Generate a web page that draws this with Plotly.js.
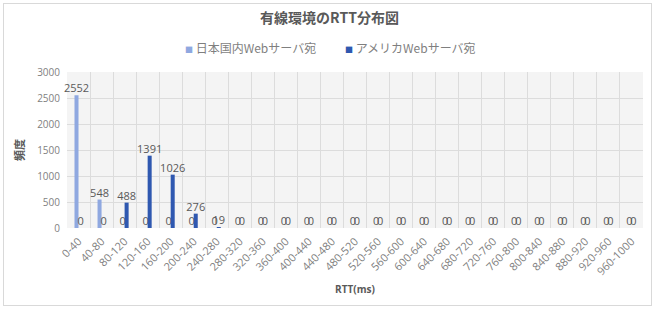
<!DOCTYPE html>
<html>
<head>
<meta charset="utf-8">
<script src="https://cdn.plot.ly/plotly-3.0.1.min.js"></script>
<style>
html,body{margin:0;padding:0;background:#fff;}
#wrap{position:relative;width:659px;height:309px;}
#chart{width:659px;height:309px;}
#frame{position:absolute;left:3px;top:3px;width:647px;height:301px;border:1px solid #d9d9d9;pointer-events:none;}
</style>
</head>
<body>
<div id="wrap"><div id="chart"></div><div id="frame"></div></div>
<script>
const categories = ["0-40","40-80","80-120","120-160","160-200","200-240","240-280","280-320","320-360","360-400","400-440","440-480","480-520","520-560","560-600","600-640","640-680","680-720","720-760","760-800","800-840","840-880","880-920","920-960","960-1000"];
const japanValues = [2552,548,0,0,0,0,0,0,0,0,0,0,0,0,0,0,0,0,0,0,0,0,0,0,0];
const americaValues = [0,0,488,1391,1026,276,19,0,0,0,0,0,0,0,0,0,0,0,0,0,0,0,0,0,0];
const seriesNames = ["日本国内Webサーバ宛","アメリカWebサーバ宛"];
const seriesColors = ["#8fa8e0","#2f58b0"];
const titleText = "有線環境のRTT分布図";
const yTitle = "頻度";
const xTitle = "RTT(ms)";

const labelFont = {family:"Open Sans, Noto Sans CJK JP, sans-serif", size:11, color:"#595959"};
function mk(name, vals, color){
  return {
    type:"bar", name:name, x:categories, y:vals,
    marker:{color:color},
    text:vals.map(String), textposition:"outside", constraintext:"none",
    cliponaxis:false, textfont:labelFont, hoverinfo:"skip"
  };
}
const data = [mk(seriesNames[0], japanValues, seriesColors[0]), mk(seriesNames[1], americaValues, seriesColors[1])];

const legendX = [0.2014, 0.479];
const legendAnn = seriesNames.map((n,i)=>({
  xref:"paper", yref:"paper", x:legendX[i], y:1.16, xanchor:"left", yanchor:"middle",
  showarrow:false,
  text:"<span style='color:"+seriesColors[i]+";font-size:8px'>■</span> "+n,
  font:{family:"Noto Sans CJK JP, sans-serif", size:12, color:"#7f7f7f"}
}));

const layout = {
  width:659, height:309,
  margin:{l:67, r:16, t:72, b:81},
  paper_bgcolor:"#ffffff", plot_bgcolor:"#f4f4f4",
  font:{family:"Noto Sans CJK JP, sans-serif", color:"#595959"},
  title:{text:titleText, x:0.5, xanchor:"center", y:0.94, yanchor:"middle",
         font:{family:"Noto Sans CJK JP, sans-serif", size:14, color:"#595959", weight:"bold"}},
  showlegend:false,
  annotations:legendAnn,
  barmode:"group", bargap:0.65, bargroupgap:0,
  xaxis:{type:"category", tickson:"boundaries", ticklen:0, tickangle:-45,
         showgrid:true, gridcolor:"#dcdcdc", gridwidth:1,
         showline:false, zeroline:false, ticklabelstandoff:4,
         tickfont:{family:"Open Sans, sans-serif", size:11, color:"#7f7f7f"},
         title:{text:xTitle, standoff:8, font:{family:"Open Sans, sans-serif", size:10, color:"#595959", weight:"bold"}}},
  yaxis:{range:[0,3000], dtick:500, showgrid:true, gridcolor:"#dcdcdc", gridwidth:1,
         zeroline:false, showline:false, ticks:"", ticklabelstandoff:6,
         tickfont:{family:"Open Sans, sans-serif", size:10, color:"#7f7f7f"},
         title:{text:yTitle, standoff:10, font:{family:"Noto Sans CJK JP, sans-serif", size:11, color:"#595959", weight:"bold"}}}
};
Plotly.newPlot("chart", data, layout, {displayModeBar:false, staticPlot:true});
</script>
</body>
</html>
